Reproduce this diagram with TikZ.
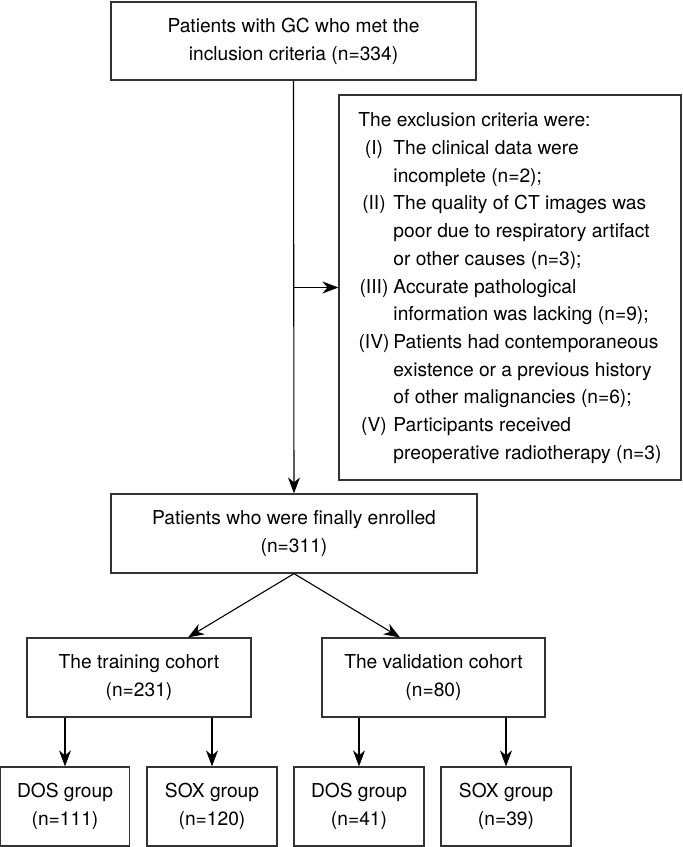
\documentclass[tikz,border=0pt]{standalone}
\usepackage{fontspec}
\setmainfont{TeX Gyre Heros}
\usepackage{array}
\usetikzlibrary{arrows.meta,calc}
\tikzset{
  box/.style={draw=black!80, line width=1.2pt, align=center, inner sep=0pt,
    font=\fontsize{19.2}{28}\selectfont, minimum height=79pt},
  exbox/.style={draw=black!80, line width=1.2pt, inner sep=0pt,
    font=\fontsize{19.2}{27.7}\selectfont, minimum width=342pt, minimum height=385pt},
  conn/.style={draw=black, line width=1.1pt, -{Stealth[length=16pt,width=12pt,inset=5pt]}},
}
\begin{document}
\begin{tikzpicture}[x=1pt,y=-1pt]
\useasboundingbox (0,0) rectangle (683,847);
\node[box, minimum width=365pt, minimum height=78pt] (top) at (293.5,41) {Patients with GC who met the\\inclusion criteria (n=334)};
\node[exbox] (ex) at (510,287.5) {\begin{tabular}{@{}>{\centering\arraybackslash}p{31pt}@{\hspace{4pt}}l@{}}
\multicolumn{2}{@{}l@{}}{The exclusion criteria were:}\\
(I) & The clinical data were\\
 & incomplete (n=2);\\
(II) & The quality of CT images was\\
 & poor due to respiratory artifact\\
 & or other causes (n=3);\\
(III) & Accurate pathological\\
 & information was lacking (n=9);\\
(IV) & Patients had contemporaneous\\
 & existence or a previous history\\
 & of other malignancies (n=6);\\
(V) & Participants received\\
 & preoperative radiotherapy (n=3)
\end{tabular}};
\node[box, minimum width=366pt] (enr) at (294,533.5) {Patients who were finally enrolled\\(n=311)};
\node[box, minimum width=224pt] (train) at (139,677.5) {The training cohort\\(n=231)};
\node[box, minimum width=223pt] (valid) at (433.5,677.5) {The validation cohort\\(n=80)};
\node[box, minimum width=129pt] (dos1) at (65,806.5) {DOS group\\(n=111)};
\node[box, minimum width=130pt] (sox1) at (212,806.5) {SOX group\\(n=120)};
\node[box, minimum width=130pt] (dos2) at (359,806.5) {DOS group\\(n=41)};
\node[box, minimum width=130pt] (sox2) at (506,806.5) {SOX group\\(n=39)};
\draw[conn] (top.south) -- (enr.north);
\draw[conn] (top.south |- ex.west) -- (ex.west);
\coordinate (tl) at ($(enr.south)+(-106,0)$);
\coordinate (tr) at ($(enr.south)+(106,0)$);
\draw[conn] (enr.south) -- (tl |- train.north);
\draw[conn] (enr.south) -- (tr |- valid.north);
\draw[conn] (dos1.north |- train.south) -- (dos1.north);
\draw[conn] (sox1.north |- train.south) -- (sox1.north);
\draw[conn] (dos2.north |- valid.south) -- (dos2.north);
\draw[conn] (sox2.north |- valid.south) -- (sox2.north);
\end{tikzpicture}
\end{document}
